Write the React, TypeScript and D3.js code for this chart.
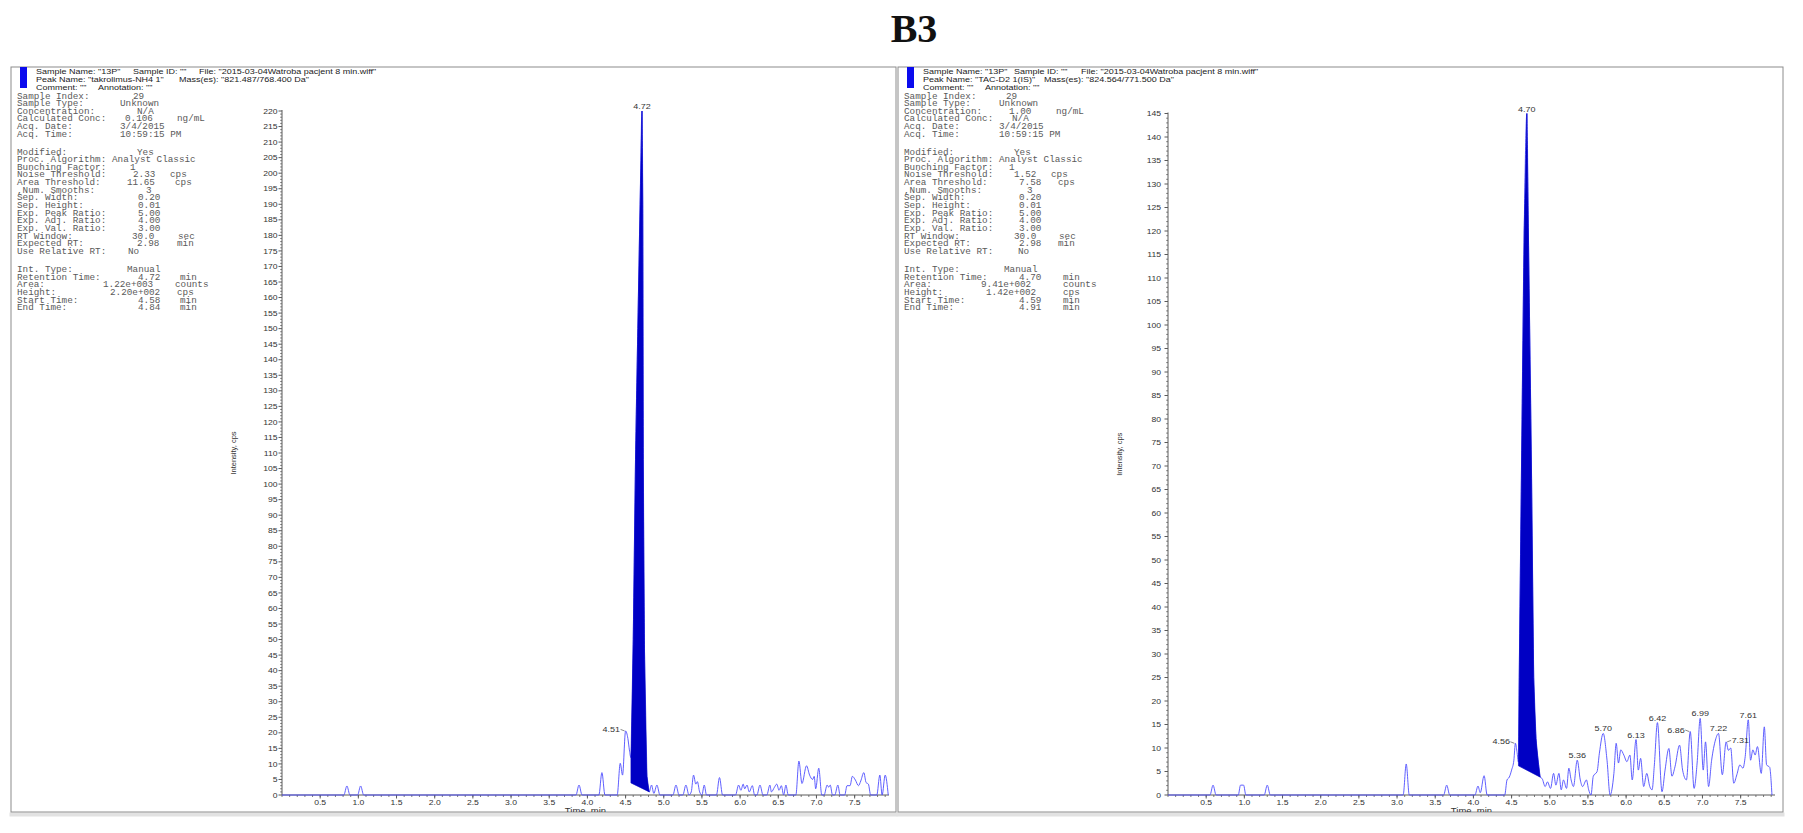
import * as d3 from "d3";

const W = 1803;
const H = 833;
const SANS = "'Liberation Sans', Arial, sans-serif";
const MONO = "'Liberation Mono', 'Courier New', monospace";

const TITLE = "B3";

// header lines of each pane
const leftHeader = [
  ['Sample Name: "13P"', 'Sample ID: ""', 'File: "2015-03-04Watroba pacjent 8 min.wiff"'],
  ['Peak Name: "takrolimus-NH4 1"', 'Mass(es): "821.487/768.400 Da"'],
  ['Comment: ""', 'Annotation: ""'],
];
const rightHeader = [
  ['Sample Name: "13P"', 'Sample ID: ""', 'File: "2015-03-04Watroba pacjent 8 min.wiff"'],
  ['Peak Name: "TAC-D2 1(IS)"', 'Mass(es): "824.564/771.500 Da"'],
  ['Comment: ""', 'Annotation: ""'],
];

// integration parameters block
const infoLabels = [
  "Sample Index:", "Sample Type:", "Concentration:", "Calculated Conc:", "Acq. Date:", "Acq. Time:",
  "Modified:", "Proc. Algorithm:", "Bunching Factor:", "Noise Threshold:", "Area Threshold:",
  ",Num. Smooths:", "Sep. Width:", "Sep. Height:", "Exp. Peak Ratio:", "Exp. Adj. Ratio:",
  "Exp. Val. Ratio:", "RT Window:", "Expected RT:", "Use Relative RT:",
  "Int. Type:", "Retention Time:", "Area:", "Height:", "Start Time:", "End Time:",
];
const leftInfoValues = [
  "29", "Unknown", "N/A", "0.106", "3/4/2015", "10:59:15 PM",
  "Yes", "Analyst Classic", "1", "2.33", "11.65", "3", "0.20", "0.01", "5.00", "4.00", "3.00",
  "30.0", "2.98", "No", "Manual", "4.72", "1.22e+003", "2.20e+002", "4.58", "4.84",
];
const leftInfoUnits = [
  "", "", "", "ng/mL", "", "", "", "", "", "cps", "cps", "", "", "", "", "", "",
  "sec", "min", "", "", "min", "counts", "cps", "min", "min",
];
const rightInfoValues = [
  "29", "Unknown", "1.00", "N/A", "3/4/2015", "10:59:15 PM",
  "Yes", "Analyst Classic", "1", "1.52", "7.58", "3", "0.20", "0.01", "5.00", "4.00", "3.00",
  "30.0", "2.98", "No", "Manual", "4.70", "9.41e+002", "1.42e+002", "4.59", "4.91",
];
const rightInfoUnits = [
  "", "", "ng/mL", "", "", "", "", "", "", "cps", "cps", "", "", "", "", "", "",
  "sec", "min", "", "", "min", "counts", "cps", "min", "min",
];

// XIC traces: [time (min), intensity (cps)]
const leftTrace: [number, number][] = [
  [0, 0], [0.81, 0], [0.85, 2.9], [0.89, 0],
  [0.99, 0], [1.03, 2.9], [1.07, 0],
  [3.85, 0], [3.89, 3.2], [3.93, 0],
  [4.15, 0], [4.19, 7.2], [4.23, 0],
  [4.39, 0], [4.43, 10.2], [4.46, 6.4], [4.5, 20.6], [4.53, 18.2], [4.55, 14.5], [4.57, 12],
  [4.6, 50], [4.63, 108], [4.66, 150], [4.69, 190], [4.715, 220], [4.725, 190], [4.732, 108],
  [4.748, 46], [4.78, 6], [4.81, 1],
  [4.84, 3.2], [4.87, 0.5], [4.91, 3.2], [4.95, 0],
  [5.12, 0], [5.16, 3.2], [5.2, 0],
  [5.25, 0], [5.29, 3.2], [5.33, 0],
  [5.36, 1], [5.39, 6.4], [5.42, 3.5], [5.44, 4.3], [5.47, 1], [5.5, 0], [5.53, 3.2], [5.56, 0],
  [5.69, 0], [5.73, 5.6], [5.77, 0],
  [5.94, 0], [5.98, 3.2], [6.01, 1.5], [6.04, 3.5], [6.06, 2], [6.09, 3.2], [6.12, 1], [6.16, 3], [6.19, 0],
  [6.22, 0], [6.26, 3.2], [6.3, 0],
  [6.35, 0], [6.39, 3.2], [6.41, 1], [6.45, 2.5], [6.48, 3.5], [6.51, 1.5], [6.54, 3], [6.57, 0],
  [6.6, 3.2], [6.63, 0],
  [6.73, 0], [6.77, 10.9], [6.81, 3.7], [6.87, 9.4], [6.91, 6.4], [6.95, 5], [6.97, 6], [6.99, 2],
  [7.03, 8.6], [7.07, 0],
  [7.1, 0], [7.14, 3.2], [7.16, 2.5], [7.18, 3.2], [7.21, 0],
  [7.24, 0], [7.28, 3.2], [7.31, 0],
  [7.37, 0], [7.4, 3], [7.44, 3], [7.47, 6], [7.51, 4.8], [7.55, 3], [7.58, 4.5], [7.62, 7.2],
  [7.65, 4], [7.68, 3.5], [7.71, 0],
  [7.79, 0], [7.83, 6.4], [7.86, 0], [7.9, 6.4], [7.94, 0],
];
const rightTrace: [number, number][] = [
  [0, 0], [0.55, 0], [0.59, 2.1], [0.63, 0],
  [0.92, 0], [0.95, 2.1], [0.99, 2.1], [1.02, 0],
  [1.26, 0], [1.3, 2.1], [1.34, 0],
  [3.08, 0], [3.12, 6.6], [3.16, 0],
  [3.61, 0], [3.65, 2.1], [3.69, 0],
  [4.02, 0], [4.06, 1.9], [4.09, 0.5], [4.14, 4.1], [4.18, 0],
  [4.41, 0], [4.44, 3.2], [4.47, 3.8], [4.5, 5.3], [4.53, 7.4], [4.55, 11], [4.57, 9.3], [4.59, 7],
  [4.6, 25], [4.63, 70], [4.665, 120], [4.7, 145], [4.72, 120], [4.76, 70], [4.79, 25], [4.82, 12],
  [4.85, 7], [4.875, 3.8],
  [4.9, 3.5], [4.94, 1.8], [4.97, 2.8], [5.01, 1.4], [5.05, 4.6], [5.08, 2.1], [5.12, 4.6], [5.15, 1.1],
  [5.18, 3.2], [5.22, 1.4], [5.25, 5.7], [5.28, 3.2], [5.31, 1.8], [5.36, 7.4], [5.4, 3.2], [5.43, 1.8],
  [5.48, 3.2], [5.51, 1.1], [5.54, 0], [5.57, 4], [5.62, 5], [5.65, 8.9], [5.7, 13.1], [5.75, 7.4],
  [5.79, 0], [5.84, 4.6], [5.87, 11], [5.9, 6.8], [5.93, 9.6], [5.97, 8.5], [6.01, 7.1], [6.05, 8.5],
  [6.08, 3.2], [6.13, 11.8], [6.16, 5.3], [6.19, 7.8], [6.23, 1.8], [6.27, 4.6], [6.31, 1.8], [6.34, 1.1],
  [6.37, 6.4], [6.41, 15.4], [6.47, 0.7], [6.51, 5.3], [6.56, 9.9], [6.6, 4], [6.64, 6], [6.7, 10.6],
  [6.74, 5.3], [6.79, 3.2], [6.84, 13.5], [6.89, 1.4], [6.93, 6.8], [6.97, 16.3], [7.01, 5.3], [7.04, 11.3],
  [7.08, 1.8], [7.12, 7.4], [7.17, 11.7], [7.21, 13.1], [7.26, 4.3], [7.31, 11.3], [7.34, 9.5], [7.37, 10],
  [7.41, 2.5], [7.45, 4.3], [7.49, 6.4], [7.53, 5.7], [7.56, 8.2], [7.6, 16], [7.63, 7.4], [7.66, 9.6],
  [7.69, 8.5], [7.72, 10.3], [7.77, 4.6], [7.81, 14.5], [7.84, 6.4], [7.88, 5.9], [7.91, 0],
];

// integration baseline (start, end) of the quantified peak
const leftPeakBase: [number, number][] = [[4.57, 3.9], [4.81, 1]];
const rightPeakBase: [number, number][] = [[4.59, 6.2], [4.875, 3.8]];

// peak labels: time, intensity, text, placement
type PeakLabel = { t: number; v: number; text: string; side: "c" | "l" | "r" };
const leftLabels: PeakLabel[] = [
  { t: 4.715, v: 220, text: "4.72", side: "c" },
  { t: 4.5, v: 20.6, text: "4.51", side: "l" },
];
const rightLabels: PeakLabel[] = [
  { t: 4.7, v: 145, text: "4.70", side: "c" },
  { t: 4.55, v: 11, text: "4.56", side: "l" },
  { t: 5.36, v: 7.4, text: "5.36", side: "c" },
  { t: 5.7, v: 13.1, text: "5.70", side: "c" },
  { t: 6.13, v: 11.8, text: "6.13", side: "c" },
  { t: 6.41, v: 15.4, text: "6.42", side: "c" },
  { t: 6.84, v: 13.5, text: "6.86", side: "l" },
  { t: 6.97, v: 16.3, text: "6.99", side: "c" },
  { t: 7.21, v: 13.1, text: "7.22", side: "c" },
  { t: 7.31, v: 11.3, text: "7.31", side: "r" },
  { t: 7.6, v: 16, text: "7.61", side: "c" },
];

// layout of the parameter block columns (offsets from the label column)
const leftValueX = [116, 103, 120, 108, 103, 103, 120, 95, 113, 116, 110, 129, 121, 121, 121, 121, 121, 115, 120, 111, 110, 121, 86, 93, 121, 121];
const leftUnitX = [0, 0, 0, 160, 0, 0, 0, 0, 0, 153, 158, 0, 0, 0, 0, 0, 0, 161, 160, 0, 0, 163, 158, 160, 163, 163];
const rightValueX = [102, 95, 105, 108, 95, 95, 110, 95, 105, 110, 115, 123, 115, 115, 115, 115, 115, 110, 115, 114, 100, 115, 77, 82, 115, 115];
const rightUnitX = [0, 0, 152, 0, 0, 0, 0, 0, 0, 147, 154, 0, 0, 0, 0, 0, 0, 155, 154, 0, 0, 159, 159, 159, 159, 159];

const headerX = [
  [0, 97, 163],
  [0, 143],
  [0, 62],
];
const headerXRight = [
  [0, 91, 158],
  [0, 121],
  [0, 62],
];

const FRAME_TOP = 67;
const FRAME_BOTTOM = 812;
const FRAME_W = 885;
const BASE_Y = 795;
const PLOT_W = 607;
const X_MAX = 7.95;

function rowY(i: number) {
  if (i < 6) return 95.7 + 7.65 * i;
  if (i < 20) return 151.7 + 7.65 * (i - 6);
  return 269.3 + 7.65 * (i - 20);
}

type PanelProps = {
  id: string;
  fx: number;
  axisX: number;
  yMax: number;
  yTop: number;
  header: string[][];
  headerPos: number[][];
  values: string[];
  units: string[];
  valueX: number[];
  unitX: number[];
  trace: [number, number][];
  base: [number, number][];
  labels: PeakLabel[];
  yLabelGap: number;
};

function Panel(p: PanelProps) {
  const x = d3.scaleLinear().domain([0, X_MAX]).range([p.axisX, p.axisX + PLOT_W]);
  const y = d3.scaleLinear().domain([0, p.yMax]).range([BASE_Y, p.yTop]);

  const line = d3
    .line<[number, number]>()
    .x((d) => x(d[0]))
    .y((d) => y(d[1]))
    .curve(d3.curveMonotoneX);

  const poly = d3
    .line<[number, number]>()
    .x((d) => x(d[0]))
    .y((d) => y(d[1]));

  const [s, e] = p.base;
  const peakPts: [number, number][] = [
    s,
    ...p.trace.filter((d) => d[0] >= s[0] && d[0] <= e[0]),
    e,
  ];

  const yMajor = d3.range(0, p.yMax + 0.01, 5);
  const yMinor = d3.range(0, p.yMax + 0.01, 1).filter((v) => v % 5 !== 0);
  const xMajor = d3.range(0.5, 7.51, 0.5);
  const xMinor = d3.range(0, X_MAX, 0.1);
  const mid = p.axisX + PLOT_W / 2;
  const axisCol = "#5a5a5a";

  return (
    <g>
      <defs>
        <clipPath id={p.id}>
          <rect x={p.fx} y={FRAME_TOP} width={FRAME_W} height={FRAME_BOTTOM - FRAME_TOP} />
        </clipPath>
      </defs>
      <rect x={p.fx - 1.5} y={FRAME_BOTTOM + 0.5} width={FRAME_W + 3} height={4} fill="#e2e2e2" />
      <rect x={p.fx} y={FRAME_TOP} width={FRAME_W} height={FRAME_BOTTOM - FRAME_TOP} fill="#fff" stroke="#8c8c8c" strokeWidth={1} />

      <g clipPath={`url(#${p.id})`}>
        {/* header */}
        <rect x={p.fx + 9} y={FRAME_TOP} width={7} height={21} fill="#0b0bee" />
        {p.header.map((row, i) =>
          row.map((txt, j) => (
            <text key={`h${i}-${j}`} transform={`translate(${p.fx + 25 + p.headerPos[i][j]},${73.5 + 8.2 * i}) scale(1,0.88)`}
              fontFamily={SANS} fontSize={9} fill="#222">{txt}</text>
          ))
        )}

        {/* parameter block */}
        {infoLabels.map((lab, i) => {
          const yy = rowY(i) + 2.8;
          const lx = p.fx + 6;
          return (
            <g key={`r${i}`} fontFamily={MONO} fontSize={9.3} fill="#5a5a5a">
              <text transform={`translate(${lx},${yy}) scale(1,0.95)`}>{lab}</text>
              <text transform={`translate(${lx + p.valueX[i]},${yy}) scale(1,0.95)`}>{p.values[i]}</text>
              {p.units[i] && (
                <text transform={`translate(${lx + p.unitX[i]},${yy}) scale(1,0.95)`}>{p.units[i]}</text>
              )}
            </g>
          );
        })}

        {/* y axis */}
        <line x1={p.axisX} x2={p.axisX} y1={BASE_Y} y2={y(p.yMax) - 1} stroke={axisCol} strokeWidth={1} />
        {yMinor.map((v) => (
          <line key={`ym${v}`} x1={p.axisX - 1.8} x2={p.axisX} y1={y(v)} y2={y(v)} stroke={axisCol} strokeWidth={0.8} />
        ))}
        {yMajor.map((v) => (
          <g key={`yM${v}`}>
            <line x1={p.axisX - 3.5} x2={p.axisX} y1={y(v)} y2={y(v)} stroke={axisCol} strokeWidth={1} />
            <text transform={`translate(${p.axisX - p.yLabelGap},${y(v) + 2.6}) scale(1,0.78)`}
              textAnchor="end" fontFamily={SANS} fontSize={8.6} fill="#333">{v}</text>
          </g>
        ))}

        {/* x axis */}
        <line x1={p.axisX} x2={x(X_MAX)} y1={BASE_Y} y2={BASE_Y} stroke={axisCol} strokeWidth={1} />
        {xMinor.map((t) => (
          <line key={`xm${t.toFixed(1)}`} x1={x(t)} x2={x(t)} y1={BASE_Y} y2={BASE_Y + 2} stroke={axisCol} strokeWidth={0.8} />
        ))}
        {xMajor.map((t) => (
          <g key={`xM${t}`}>
            <line x1={x(t)} x2={x(t)} y1={BASE_Y} y2={BASE_Y + 3.5} stroke={axisCol} strokeWidth={1} />
            <text transform={`translate(${x(t)},${BASE_Y + 9.5}) scale(1,0.78)`}
              textAnchor="middle" fontFamily={SANS} fontSize={8.6} fill="#333">{d3.format(".1f")(t)}</text>
          </g>
        ))}
        <text transform={`translate(${mid},${FRAME_BOTTOM + 1.8}) scale(1,0.9)`} textAnchor="middle"
          fontFamily={SANS} fontSize={9.5} fill="#333">Time, min</text>
        <text transform={`translate(${p.axisX - 46},${(BASE_Y + p.yTop) / 2}) rotate(-90)`} textAnchor="middle"
          fontFamily={SANS} fontSize={7.5} fill="#333">Intensity, cps</text>

        {/* trace and integrated peak */}
        <path d={line(p.trace) ?? ""} fill="none" stroke="#4d4dff" strokeWidth={0.9} />
        <path d={(poly(peakPts) ?? "") + "Z"} fill="#0000c4" stroke="#0000c4" strokeWidth={0.6} />

        {/* peak labels */}
        {p.labels.map((l) => {
          const px = x(l.t);
          const py = y(l.v);
          if (l.side === "c") {
            return (
              <text key={l.text} transform={`translate(${px},${py - 2}) scale(1,0.8)`} textAnchor="middle"
                fontFamily={SANS} fontSize={9} fill="#333">{l.text}</text>
            );
          }
          const dir = l.side === "l" ? -1 : 1;
          return (
            <g key={l.text}>
              <line x1={px + dir * 1} x2={px + dir * 5} y1={py} y2={py - 1.5} stroke="#555" strokeWidth={0.7} />
              <text transform={`translate(${px + dir * 5.5},${py + 1}) scale(1,0.8)`}
                textAnchor={dir < 0 ? "end" : "start"} fontFamily={SANS} fontSize={9} fill="#333">{l.text}</text>
            </g>
          );
        })}
      </g>
    </g>
  );
}

export default function App() {
  return (
    <svg width={W} height={H} style={{ position: "absolute", left: 0, top: 0, display: "block" }}>
      <rect width={W} height={H} fill="#fff" />
      <text x={914} y={42} textAnchor="middle" fontFamily="'Liberation Serif', 'Times New Roman', serif"
        fontWeight="bold" fontSize={40} fill="#111">{TITLE}</text>
      <Panel id="clipL" fx={11} axisX={282} yMax={220} yTop={111} header={leftHeader} headerPos={headerX}
        values={leftInfoValues} units={leftInfoUnits} valueX={leftValueX} unitX={leftUnitX}
        trace={leftTrace} base={leftPeakBase} labels={leftLabels} yLabelGap={4.5} />
      <Panel id="clipR" fx={898} axisX={1168} yMax={145} yTop={113.5} header={rightHeader} headerPos={headerXRight}
        values={rightInfoValues} units={rightInfoUnits} valueX={rightValueX} unitX={rightUnitX}
        trace={rightTrace} base={rightPeakBase} labels={rightLabels} yLabelGap={7} />
    </svg>
  );
}
